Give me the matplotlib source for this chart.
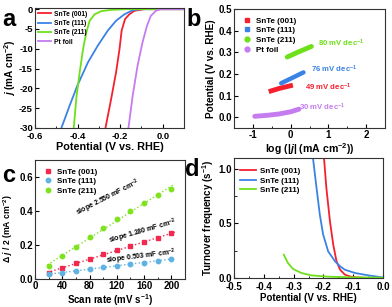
import numpy as np
import matplotlib
matplotlib.use("Agg")
import matplotlib.pyplot as plt
from matplotlib.lines import Line2D
from matplotlib.ticker import MultipleLocator

plt.rcParams['font.family'] = ['Liberation Sans', 'DejaVu Sans']
plt.rcParams['font.weight'] = 'bold'
plt.rcParams['axes.labelweight'] = 'bold'
plt.rcParams['mathtext.fontset'] = 'custom'
plt.rcParams['mathtext.rm'] = 'Liberation Sans:bold'
plt.rcParams['mathtext.it'] = 'Liberation Sans:italic:bold'
plt.rcParams['mathtext.bf'] = 'Liberation Sans:bold'
plt.rcParams['mathtext.default'] = 'regular'
plt.rcParams['axes.unicode_minus'] = False

# colours
c_001 = '#f5202e'
c_111 = '#3b82e6'
c_211 = '#6ee01a'
c_pt = '#c57cf0'

# ---- panel a: polarisation curves (V vs RHE, mA cm-2)
a_001_x = [-0.269, -0.242, -0.219, -0.203, -0.193, -0.177, -0.157, -0.133, -0.087, 0.1]
a_001_y = [-30, -22.6, -15.9, -10.1, -5.4, -2.5, -1.3, -0.4, 0, 0]
a_111_x = [-0.476, -0.437, -0.401, -0.351, -0.305, -0.258, -0.219, -0.180, -0.141, -0.102, 0.1]
a_111_y = [-30, -24.3, -19.3, -13.4, -9.2, -5.4, -2.9, -1.3, -0.25, 0, 0]
a_211_x = [-0.418, -0.405, -0.390, -0.374, -0.359, -0.343, -0.320, -0.289, -0.242, -0.17, 0.1]
a_211_y = [-30, -22.0, -15.9, -10.0, -5.9, -2.9, -1.3, -0.5, -0.17, 0, 0]
a_pt_x = [-0.161, -0.141, -0.118, -0.095, -0.074, -0.056, -0.032, -0.009, 0.1]
a_pt_y = [-30, -21.8, -14.2, -8.4, -4.2, -1.7, -0.4, 0, 0]

# ---- panel b: Tafel plots
b_001_x = [-0.58, -0.3, 0.06]
b_001_y = [0.118, 0.133, 0.148]
b_111_x = [-0.25, 0.0, 0.34]
b_111_y = [0.157, 0.178, 0.207]
b_211_x = [-0.09, 0.2, 0.55]
b_211_y = [0.278, 0.301, 0.327]
b_pt_x = [-0.95, -0.6, -0.3, 0.0, 0.22]
b_pt_y = [0.004, 0.009, 0.015, 0.025, 0.037]
tafel_labels = ['80 mV dec$^{-1}$', '76 mV dec$^{-1}$', '49 mV dec$^{-1}$', '30 mV dec$^{-1}$']

# ---- panel c: double layer capacitance
scan_rate = [20, 40, 60, 80, 100, 120, 140, 160, 180, 200]
c_001_j = [0.038, 0.065, 0.092, 0.118, 0.145, 0.168, 0.193, 0.218, 0.242, 0.268]
c_111_j = [0.027, 0.038, 0.048, 0.058, 0.070, 0.078, 0.088, 0.097, 0.108, 0.117]
c_211_j = [0.076, 0.133, 0.190, 0.248, 0.300, 0.352, 0.400, 0.448, 0.495, 0.530]
slope_labels = ['slope 2.550 mF cm$^{-2}$', 'slope 1.280 mF cm$^{-2}$', 'slope 0.503 mF cm$^{-2}$']

# ---- panel d: turnover frequency
d_001_x = [-0.198, -0.190, -0.178, -0.167, -0.156, -0.144, -0.128, -0.105, -0.05, 0.0]
d_001_y = [1.1, 0.825, 0.52, 0.306, 0.153, 0.076, 0.031, 0.009, 0.0, 0.0]
d_111_x = [-0.235, -0.223, -0.212, -0.201, -0.184, -0.161, -0.144, -0.128, -0.094, -0.049, -0.003]
d_111_y = [1.1, 0.825, 0.58, 0.40, 0.244, 0.153, 0.107, 0.076, 0.046, 0.024, 0.006]
d_211_x = [-0.333, -0.319, -0.302, -0.274, -0.240, -0.184, -0.105, 0.0]
d_211_y = [0.214, 0.1375, 0.083, 0.046, 0.024, 0.012, 0.006, 0.003]

W, H = 392, 307
fig = plt.figure(figsize=(W / 100, H / 100), dpi=100)


def make_ax(l, t, r, b):
    return fig.add_axes([l / W, (H - b) / H, (r - l) / W, (b - t) / H])


def style(ax, size=7):
    for s in ax.spines.values():
        s.set_linewidth(0.8)
        s.set_color('#333333')
    ax.tick_params(which='both', direction='in')
    ax.tick_params(which='major', length=3, width=0.8, labelsize=size, pad=1.5)
    ax.tick_params(which='minor', length=1.8, width=0.6)
    for lab in ax.get_xticklabels() + ax.get_yticklabels():
        lab.set_fontweight('bold')


# a
ax = make_ax(35, 8, 184, 128)
ax.plot(a_001_x, a_001_y, color=c_001, lw=1.3, label='SnTe (001)')
ax.plot(a_111_x, a_111_y, color=c_111, lw=1.3, label='SnTe (111)')
ax.plot(a_211_x, a_211_y, color=c_211, lw=1.3, label='SnTe (211)')
ax.plot(a_pt_x, a_pt_y, color=c_pt, lw=1.3, label='Pt foil')
ax.set_xlim(-0.6, 0.1)
ax.set_ylim(-30, 0.3)
ax.set_xticks([-0.6, -0.4, -0.2, 0.0])
ax.xaxis.set_minor_locator(MultipleLocator(0.1))
ax.set_yticks([0, -5, -10, -15, -20, -25, -30])
ax.set_xticklabels(['-0.6', '-0.4', '-0.2', '0.0'])
ax.set_xlabel('Potential (V vs. RHE)', fontsize=7.8, labelpad=0.5)
ax.set_ylabel('$\\mathit{j}$ (mA cm$^{-2}$)', fontsize=7.2, labelpad=1)
ax.legend(loc='upper left', bbox_to_anchor=(0, 1), borderaxespad=0.2, frameon=False,
          fontsize=4.8, handlelength=2.0, labelspacing=0.35, handletextpad=0.5, borderpad=0.2)
style(ax, 6.8)
ax.tick_params(axis='x', which='major', pad=3)

# b
ax = make_ax(234, 9, 385, 128)
ax.plot(b_001_x, b_001_y, color=c_001, lw=3.5, solid_capstyle='butt')
ax.plot(b_111_x, b_111_y, color=c_111, lw=3.2, solid_capstyle='round')
ax.plot(b_211_x, b_211_y, color=c_211, lw=3.5, solid_capstyle='round')
ax.plot(b_pt_x, b_pt_y, color=c_pt, lw=3.5, solid_capstyle='round')
ax.text(1.35, 0.343, tafel_labels[0], color=c_211, fontsize=5.6, ha='center', va='center')
ax.text(1.16, 0.222, tafel_labels[1], color=c_111, fontsize=5.6, ha='center', va='center')
ax.text(1.0, 0.139, tafel_labels[2], color=c_001, fontsize=5.6, ha='center', va='center')
ax.text(0.85, 0.046, tafel_labels[3], color=c_pt, fontsize=5.6, ha='center', va='center')
handles = [Line2D([], [], color=c_001, marker='s', ls='none', ms=3.5),
           Line2D([], [], color=c_111, marker='s', ls='none', ms=3.5),
           Line2D([], [], color=c_211, marker='o', ls='none', ms=3.5),
           Line2D([], [], color=c_pt, marker='o', ls='none', ms=3.5)]
ax.legend(handles, ['SnTe (001)', 'SnTe (111)', 'SnTe (211)', 'Pt foil'], loc='upper left',
          bbox_to_anchor=(0.02, 0.98), frameon=False, fontsize=5.8, handlelength=1.0,
          labelspacing=0.25, handletextpad=0.6, borderpad=0.2)
ax.set_xlim(-1.5, 2.5)
ax.set_ylim(-0.05, 0.5)
ax.set_xticks([-1, 0, 1, 2])
ax.xaxis.set_minor_locator(MultipleLocator(0.5))
ax.set_yticks([0.0, 0.1, 0.2, 0.3, 0.4, 0.5])
ax.set_yticklabels(['0.0', '0.1', '0.2', '0.3', '0.4', '0.5'])
ax.set_xlabel('log (|$\\mathit{j}$| (mA cm$^{-2}$))', fontsize=7.6, labelpad=1)
ax.set_ylabel('Potential (V vs. RHE)', fontsize=7.2, labelpad=1.5)
style(ax)

# c
ax = make_ax(35, 160, 185, 279)
xs = np.array([18, 205])
for j, col, mk, lab in [(c_001_j, '#f2294f', 's', 'SnTe (001)'),
                        (c_111_j, '#5fb3e3', 'o', 'SnTe (111)'),
                        (c_211_j, '#7ee21e', 'o', 'SnTe (211)')]:
    k, b0 = np.polyfit(scan_rate, j, 1)
    ax.plot(xs, k * xs + b0, color=col, lw=1.0, ls=':')
    ax.plot(scan_rate, j, color=col, marker=mk, ms=3.2, ls='none', label=lab)
ax.text(107, 0.476, slope_labels[0], fontsize=5, rotation=27, ha='center', va='center')
ax.text(158, 0.276, slope_labels[1], fontsize=5, rotation=16, ha='center', va='center')
ax.text(155, 0.130, slope_labels[2], fontsize=5, rotation=7, ha='center', va='center')
ax.legend(loc='upper left', bbox_to_anchor=(0.02, 0.98), frameon=False, fontsize=5.8,
          handlelength=1.0, labelspacing=0.25, handletextpad=0.6, borderpad=0.2)
ax.set_xlim(0, 220)
ax.set_ylim(0, 0.7)
ax.set_xticks([0, 40, 80, 120, 160, 200])
ax.xaxis.set_minor_locator(MultipleLocator(20))
ax.set_yticks([0.0, 0.2, 0.4, 0.6])
ax.set_yticklabels(['0.0', '0.2', '0.4', '0.6'])
ax.set_xlabel('Scan rate (mV s$^{-1}$)', fontsize=7, labelpad=1)
ax.set_ylabel('Δ $\\mathit{j}$ / 2 (mA cm$^{-2}$)', fontsize=6.2)
ax.yaxis.set_label_coords(-0.135, 0.42)
style(ax)

# d
ax = make_ax(234, 158, 383, 278)
ax.plot(d_001_x, d_001_y, color=c_001, lw=1.3, label='SnTe (001)')
ax.plot(d_111_x, d_111_y, color=c_111, lw=1.3, label='SnTe (111)')
ax.plot(d_211_x, d_211_y, color=c_211, lw=1.3, label='SnTe (211)')
ax.set_xlim(-0.5, 0.0)
ax.set_ylim(0, 1.1)
ax.set_xticks([-0.5, -0.4, -0.3, -0.2, -0.1, 0.0])
ax.set_xticklabels(['-0.5', '-0.4', '-0.3', '-0.2', '-0.1', '0.0'])
ax.xaxis.set_minor_locator(MultipleLocator(0.05))
ax.set_yticks([0.0, 0.5, 1.0])
ax.set_yticklabels(['0.0', '0.5', '1.0'])
ax.yaxis.set_minor_locator(MultipleLocator(0.25))
ax.set_xlabel('Potential (V vs. RHE)', fontsize=7, labelpad=0.5)
ax.set_ylabel('Turnover frequency (s$^{-1}$)', fontsize=7, labelpad=2)
ax.legend(loc='upper left', bbox_to_anchor=(0.0, 0.97), frameon=False, fontsize=5.8,
          handlelength=2.0, labelspacing=0.25, handletextpad=0.5, borderpad=0.2)
style(ax)
ax.tick_params(axis='x', which='major', pad=3.2)

# panel letters
fig.text(2 / W, 1 - 20 / H, 'a', fontsize=17, fontweight='bold', va='center')
fig.text(186 / W, 1 - 20 / H, 'b', fontsize=17, fontweight='bold', va='center')
fig.text(2 / W, 1 - 176 / H, 'c', fontsize=17, fontweight='bold', va='center')
fig.text(185 / W, 1 - 170 / H, 'd', fontsize=17, fontweight='bold', va='center')

fig.savefig('out.png', dpi=100)
